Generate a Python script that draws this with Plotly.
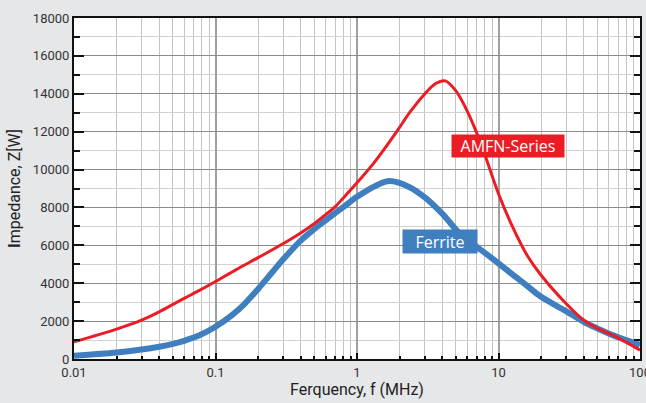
import plotly.graph_objects as go

# AMFN-Series (red)
f_red = [0.01, 0.02, 0.03, 0.04, 0.05, 0.06, 0.077, 0.1, 0.14, 0.2, 0.3, 0.4, 0.5, 0.6, 0.7, 0.8,
         1.0, 1.3, 1.6, 2.0, 2.35, 3.0, 3.6, 4.2, 5.0, 6.0, 7.0, 8.0, 10, 12.6, 16,
         20, 30, 40, 50, 64, 80, 100]
z_red = [910, 1580, 2050, 2490, 2880, 3200, 3620, 4090, 4720, 5350, 6080, 6650, 7150, 7620, 8030, 8500,
         9300, 10300, 11200, 12230, 13000, 13980, 14540, 14680, 14150, 13100, 11950, 10800,
         8720, 6960, 5450, 4420, 2930, 2050, 1615, 1260, 880, 470]

# Ferrite (blue)
f_blue = [0.01, 0.02, 0.03, 0.04, 0.05, 0.06, 0.077, 0.1, 0.13, 0.16, 0.2, 0.25, 0.3, 0.4, 0.5,
          0.6, 0.7, 0.8, 1.0, 1.37, 1.7, 2.35, 3.0, 4.0, 5.6, 7.3, 10, 12.6, 16, 20, 30, 40,
          50, 64, 80, 100]
z_blue = [175, 340, 500, 650, 800, 960, 1250, 1700, 2300, 2900, 3700, 4550, 5250, 6250, 6860,
          7320, 7700, 8020, 8560, 9160, 9390, 9070, 8540, 7670, 6440, 5830, 5050, 4450, 3850,
          3280, 2530, 1965, 1615, 1260, 1000, 740]

x_tickvals = [0.01, 0.1, 1, 10, 100]
x_ticktext = ["0.01", "0.1", "1", "10", "100"]
y_tickvals = [0, 2000, 4000, 6000, 8000, 10000, 12000, 14000, 16000, 18000]
y_ticktext = ["0", "2000", "4000", "6000", "8000", "10000", "12000", "14000", "16000", "18000"]

RED = "#ec1c24"
BLUE = "#3f7fc0"
FAM = "Roboto, sans-serif"
TICKFONT = dict(family=FAM, size=13, color="#333333")

fig = go.Figure()
fig.add_trace(go.Scatter(x=f_blue, y=z_blue, mode="lines",
                         line=dict(color=BLUE, width=6, shape="spline", smoothing=1.0),
                         name="Ferrite", showlegend=False))
fig.add_trace(go.Scatter(x=f_red, y=z_red, mode="lines",
                         line=dict(color=RED, width=3, shape="spline", smoothing=0.9),
                         name="AMFN-Series", showlegend=False))

fig.update_xaxes(
    type="log", range=[-2, 2], automargin=False,
    tickvals=x_tickvals, ticktext=x_ticktext, ticklabeloverflow="allow",
    ticks="inside", ticklen=6, tickwidth=2, tickcolor="#111",
    showline=True, linecolor="#111", linewidth=2, mirror=True,
    showgrid=True, gridcolor="#a0a0a0", gridwidth=1.5,
    minor=dict(dtick="D1", showgrid=True, gridcolor="#c4c4c4", gridwidth=1,
               ticks="inside", ticklen=3, tickcolor="#111", tickwidth=1.5),
    tickfont=TICKFONT,
    title=dict(text="Ferquency, f (MHz)",
               font=dict(family=FAM, size=16, color="#222"),
               standoff=3),
    zeroline=False,
)
fig.update_yaxes(
    range=[0, 18000], tickvals=y_tickvals, ticktext=y_ticktext, automargin=False,
    ticks="inside", ticklen=10, tickwidth=2, tickcolor="#111",
    showline=True, linecolor="#111", linewidth=2, mirror="ticks",
    showgrid=True, gridcolor="#8c8c8c", gridwidth=1,
    minor=dict(dtick=1000, showgrid=True, gridcolor="#d2d2d2", gridwidth=1,
               ticks="inside", ticklen=6, tickcolor="#111", tickwidth=1.5),
    tickfont=TICKFONT,
    title=dict(text="<b>I</b>mpedance, Z[W]",
               font=dict(family=FAM, size=16, color="#222"),
               standoff=8),
    zeroline=False,
)

fig.add_annotation(x=1.066, y=11240, xref="x", yref="y", text="AMFN-Series", showarrow=False,
                   font=dict(family="Open Sans, sans-serif", size=16, color="white"),
                   bgcolor=RED, borderpad=1, width=110, height=20)
fig.add_annotation(x=0.586, y=6210, xref="x", yref="y", text="Ferrite", showarrow=False,
                   font=dict(family="Open Sans, sans-serif", size=16, color="white"),
                   bgcolor=BLUE, borderpad=1, width=72, height=21)

fig.update_layout(
    width=646, height=403,
    margin=dict(l=74, r=6, t=18, b=44),
    paper_bgcolor="#e6e7e9", plot_bgcolor="white",
)

fig.write_html("out.html")
